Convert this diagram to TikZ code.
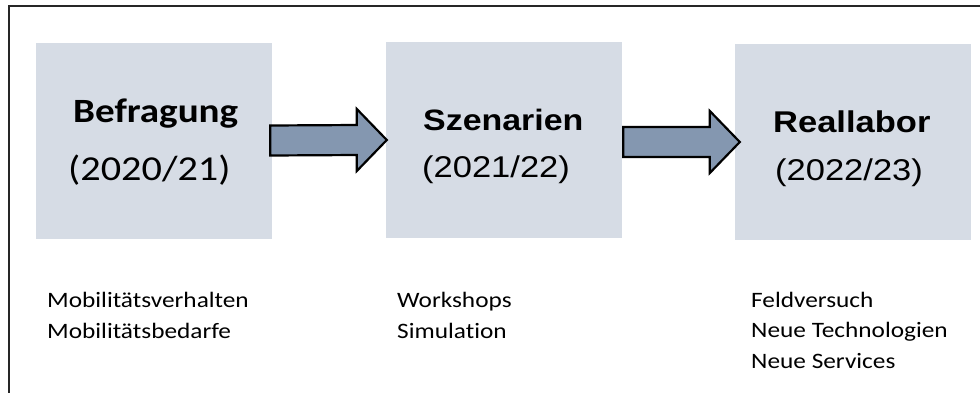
\documentclass[tikz,border=0pt]{standalone}
\usepackage{fontspec}
\usetikzlibrary{calc}
\newfontfamily\calfont{Carlito}[FakeStretch=1.15, Ligatures=NoCommon]
\newfontfamily\arfont{Liberation Sans}[FakeStretch=1.15]
\definecolor{boxfill}{HTML}{D6DCE5}
\definecolor{arrowfill}{HTML}{8497B0}
\tikzset{
  phase/.style={fill=boxfill, draw=none, minimum width=236pt, minimum height=196pt, inner sep=0pt},
  blockarrow/.style={draw=black, line width=2.2pt, fill=arrowfill, line join=miter},
  lbl/.style={inner sep=0pt, anchor=base west},
  note/.style={lbl, font=\calfont\fontsize{22}{26}\selectfont},
}
% block arrow from #1 to tip #2 (shaft half height 15, head half height 31, head length 30)
\newcommand\drawblockarrow[2]{%
  \draw[blockarrow] ($(#1)+(0,-15)$) -- ($(#2)+(-30,-15)$) -- ($(#2)+(-30,-31)$) -- (#2)
    -- ($(#2)+(-30,31)$) -- ($(#2)+(-30,15)$) -- ($(#1)+(0,15)$) -- cycle;}
\begin{document}
\begin{tikzpicture}[x=1pt, y=-1pt]
\useasboundingbox (0,0) rectangle (980,392);
\fill[white] (0,0) rectangle (980,392);
% outer frame (runs off the right and bottom edges)
\draw[black!85, line width=2pt] (990,5.5) -- (8.5,5.5) -- (8.5,400);

% phase boxes
\node[phase] (b1) at (154,140.5) {};
\node[phase] (b2) at (504,140) {};
\node[phase] (b3) at (853,141.5) {};

% arrows between phases
\coordinate (a1s) at ($(b1.east)+(-2,0)$);
\coordinate (a1t) at ($(b2.west)+(1,0)$);
\coordinate (a2s) at ($(b2.east)+(1,2)$);
\coordinate (a2t) at ($(b3.west)+(5,0.5)$);
\drawblockarrow{a1s}{a1t}
\drawblockarrow{a2s}{a2t}

% box titles
\node[lbl, font=\calfont\bfseries\fontsize{34}{40}\selectfont] (t1) at (73,122) {Befragung};
\node[lbl, font=\calfont\fontsize{35}{40}\selectfont] (y1) at (68,180) {(2020/21)};
\node[lbl, font=\arfont\bfseries\fontsize{29.5}{34}\selectfont] (t2) at (423,130) {Szenarien};
\node[lbl, font=\arfont\fontsize{30}{34}\selectfont] (y2) at (422,177) {(2021/22)};
\node[lbl, font=\arfont\bfseries\fontsize{30}{34}\selectfont] (t3) at (773,132) {Reallabor};
\node[lbl, font=\arfont\fontsize{30}{34}\selectfont] (y3) at (775,180) {(2022/23)};

% notes below the boxes
\node[note] (n11) at (47,307) {Mobilitätsverhalten};
\node[note] (n12) at (47,338) {Mobilitätsbedarfe};
\node[note] (n21) at (397,307) {Workshops};
\node[note] (n22) at (397,338) {Simulation};
\node[note] (n31) at (751,307) {Feldversuch};
\node[note] (n32) at (751,337.5) {Neue Technologien};
\node[note] (n33) at (751,368) {Neue Services};
\end{tikzpicture}
\end{document}
